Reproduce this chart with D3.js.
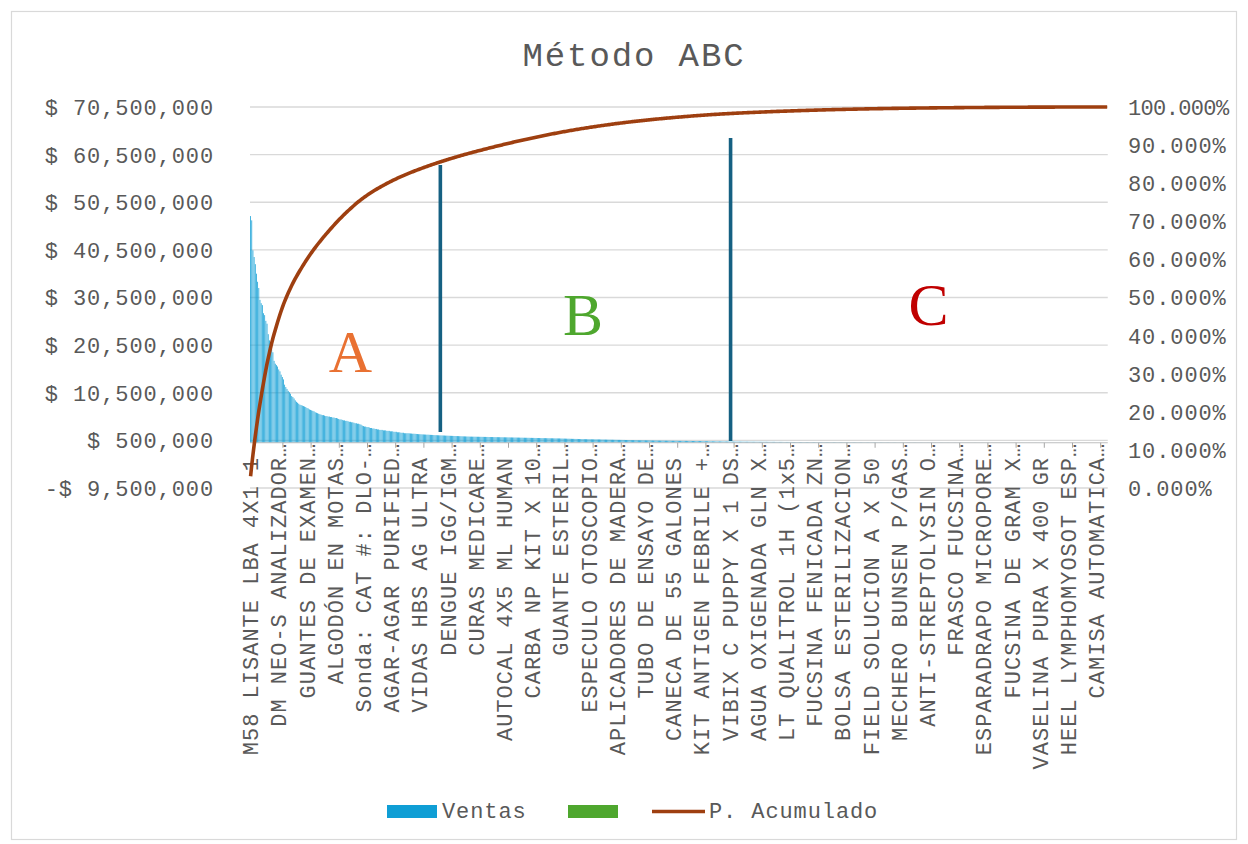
<!DOCTYPE html>
<html>
<head>
<meta charset="utf-8">
<script src="https://cdn.jsdelivr.net/npm/d3@7"></script>
<style>
  html, body { margin: 0; padding: 0; background: #ffffff; }
  svg { display: block; }
  .mono { font-family: "Liberation Mono", "DejaVu Sans Mono", monospace; fill: #595959; }
</style>
</head>
<body>
<svg id="chart" width="1248" height="844"></svg>
<script>
// Ventas por producto (millones de pesos), ordenadas de mayor a menor.
// Zona A: productos de mayor aporte
const ventasA = [
  47.6, 46.7, 40.4, 39.0, 37.5, 35.5, 33.8, 32.5, 30.0, 29.3,
  28.9, 27.2, 26.8, 25.6, 25.0, 22.8, 21.5, 20.5, 19.6, 19.0,
  17.2, 16.6, 16.3, 16.0, 15.4, 15.0, 14.3, 13.8, 13.3, 12.2,
  11.7, 11.3, 10.9, 10.6, 10.3, 9.8, 9.6, 9.3, 8.9, 8.6,
  8.4, 8.2, 8.0, 7.9, 7.8, 7.7,
  7.6, 7.5, 7.3, 7.2, 7.0, 6.9, 6.8, 6.7, 6.6, 6.4,
  6.3, 6.2, 6.1, 6.0, 5.9, 5.8, 5.8, 5.7, 5.6, 5.6,
  5.5, 5.5, 5.4, 5.4, 5.3, 5.3, 5.2, 5.2, 5.1, 5.0,
  4.9, 4.9, 4.8, 4.7, 4.7, 4.6, 4.6, 4.5, 4.4, 4.4,
  4.3, 4.3, 4.2, 4.1, 4.1, 4.0, 4.0,
  3.9, 3.8, 3.6, 3.5, 3.4, 3.4, 3.3, 3.3,
  3.2, 3.1, 3.1, 3.0, 3.0, 2.9, 2.9, 2.8,
  2.8, 2.7, 2.7, 2.7, 2.6, 2.6, 2.6, 2.5, 2.5, 2.5, 2.4, 2.4,
  2.4, 2.3, 2.3, 2.3, 2.2, 2.2, 2.2, 2.1, 2.1, 2.1, 2.0,
  2.0, 2.0, 2.0, 1.98, 1.95, 1.93, 1.9, 1.9, 1.88, 1.85, 1.83,
  1.8, 1.8, 1.78, 1.76, 1.75, 1.73, 1.72, 1.7, 1.7, 1.68, 1.66, 1.65,
  1.64, 1.62, 1.6, 1.6, 1.58, 1.57, 1.56
];
// Zona B
const ventasB = [
  1.55, 1.54, 1.53, 1.52, 1.50, 1.50, 1.48, 1.47, 1.46, 1.45,
  1.44, 1.43, 1.42, 1.41, 1.40, 1.39, 1.38, 1.37, 1.36, 1.35,
  1.34, 1.33, 1.32, 1.31, 1.30,
  1.29, 1.29, 1.28, 1.28, 1.27, 1.27, 1.26, 1.26, 1.25, 1.25,
  1.24, 1.24, 1.23, 1.23, 1.22, 1.22, 1.21, 1.21, 1.20, 1.20,
  1.19, 1.19, 1.18, 1.18, 1.17, 1.17, 1.16, 1.16, 1.15, 1.15,
  1.14, 1.14, 1.13, 1.13, 1.12, 1.12, 1.11, 1.11, 1.10, 1.10,
  1.09, 1.09, 1.08,
  1.07, 1.07, 1.06, 1.06, 1.05, 1.05, 1.04, 1.04, 1.03, 1.03,
  1.02, 1.02, 1.01, 1.01, 1.00, 1.00, 0.99, 0.99, 0.98, 0.98,
  0.97, 0.97, 0.96, 0.96, 0.95, 0.95, 0.94, 0.94, 0.93, 0.93,
  0.92, 0.92, 0.91, 0.91,
  0.90, 0.89, 0.88, 0.88, 0.87, 0.86, 0.85, 0.85, 0.84, 0.83,
  0.82, 0.82, 0.81, 0.80, 0.80, 0.79, 0.78, 0.78, 0.77, 0.76,
  0.76, 0.75, 0.75, 0.74, 0.74, 0.73, 0.73, 0.72, 0.72, 0.71,
  0.71, 0.71, 0.70, 0.70,
  0.69, 0.68, 0.68, 0.67, 0.67, 0.66, 0.66, 0.65, 0.65, 0.64,
  0.64, 0.63, 0.63, 0.62, 0.62, 0.61, 0.61, 0.60, 0.60, 0.59,
  0.59, 0.58, 0.58, 0.57, 0.57, 0.56, 0.56, 0.55, 0.55, 0.54,
  0.54, 0.53, 0.53, 0.52, 0.52, 0.52, 0.51, 0.51, 0.51, 0.50,
  0.50, 0.50, 0.49,
  0.48, 0.48, 0.47, 0.47, 0.47, 0.46, 0.46, 0.46, 0.45, 0.45,
  0.45, 0.44, 0.44, 0.44, 0.43, 0.43, 0.43, 0.42, 0.42, 0.42,
  0.41, 0.41, 0.41, 0.40, 0.40, 0.40, 0.40, 0.39, 0.39, 0.39,
  0.39, 0.38, 0.38, 0.38, 0.38, 0.37, 0.37, 0.37, 0.37, 0.36,
  0.36, 0.36, 0.36,
  0.35, 0.35, 0.34, 0.34, 0.33, 0.33, 0.32, 0.32, 0.31, 0.31,
  0.30, 0.30, 0.30, 0.29, 0.29, 0.29, 0.28, 0.28, 0.28, 0.27,
  0.27, 0.27, 0.26, 0.26, 0.25
];
// Zona C: cola de productos de bajo aporte
const ventasC = [
  0.25, 0.25, 0.25, 0.24, 0.24, 0.24, 0.24, 0.23, 0.23, 0.23,
  0.23, 0.23, 0.22, 0.22, 0.22, 0.22, 0.22, 0.22, 0.21, 0.21,
  0.21, 0.21, 0.21, 0.21, 0.20, 0.20, 0.20, 0.20, 0.20, 0.20,
  0.20, 0.19, 0.19, 0.19, 0.19, 0.19, 0.19, 0.19, 0.18, 0.18,
  0.18, 0.18, 0.18, 0.18, 0.18, 0.17, 0.17, 0.17, 0.17, 0.17,
  0.17, 0.17, 0.16, 0.16, 0.16, 0.16, 0.16, 0.16, 0.16, 0.16,
  0.155, 0.155, 0.15, 0.15, 0.15, 0.15, 0.148, 0.146, 0.145, 0.145,
  0.144, 0.142, 0.14, 0.14, 0.14, 0.138, 0.136, 0.135, 0.135, 0.134,
  0.132, 0.13, 0.13, 0.13, 0.128, 0.126, 0.125, 0.125, 0.124, 0.122,
  0.12, 0.12, 0.12, 0.118, 0.116, 0.115, 0.115, 0.114, 0.112, 0.11,
  0.11, 0.11, 0.108, 0.106, 0.105, 0.105, 0.104, 0.102, 0.10, 0.10,
  0.10, 0.099, 0.098, 0.097, 0.096, 0.095, 0.095, 0.094, 0.093, 0.092,
  0.091, 0.09, 0.09, 0.089, 0.088, 0.087, 0.086, 0.085, 0.085, 0.084,
  0.083, 0.082, 0.081, 0.08, 0.08, 0.079, 0.078, 0.077, 0.076, 0.075,
  0.075, 0.074, 0.073, 0.072, 0.071,
  0.07, 0.07, 0.069, 0.068, 0.068, 0.067, 0.066, 0.066, 0.065, 0.064,
  0.064, 0.063, 0.062, 0.062, 0.061, 0.06, 0.06, 0.059, 0.058, 0.058,
  0.057, 0.056, 0.056, 0.055, 0.055, 0.054, 0.053, 0.053, 0.052, 0.052,
  0.051, 0.05, 0.05, 0.05, 0.049, 0.048, 0.048, 0.047, 0.047, 0.046,
  0.046, 0.045, 0.045, 0.044, 0.044, 0.043, 0.043, 0.042, 0.042, 0.042,
  0.041, 0.041, 0.04, 0.04, 0.04, 0.039, 0.039, 0.038, 0.038, 0.038,
  0.037, 0.037, 0.036, 0.036, 0.036, 0.035, 0.035, 0.035, 0.034, 0.034,
  0.034, 0.033, 0.033, 0.033, 0.032, 0.032, 0.032, 0.031, 0.031, 0.031,
  0.03, 0.03, 0.03, 0.03, 0.029,
  0.029, 0.029, 0.028, 0.028, 0.028, 0.027, 0.027, 0.027, 0.026, 0.026,
  0.026, 0.025, 0.025, 0.025, 0.024, 0.024, 0.024, 0.023, 0.023, 0.023,
  0.022, 0.022, 0.022, 0.021, 0.021, 0.021, 0.02, 0.02, 0.02, 0.02,
  0.019, 0.019, 0.019, 0.018, 0.018, 0.018, 0.017, 0.017, 0.017, 0.016,
  0.016, 0.016, 0.015, 0.015, 0.015, 0.014, 0.014, 0.014, 0.013, 0.013,
  0.013, 0.012, 0.012, 0.012, 0.011, 0.011, 0.011, 0.01, 0.01, 0.01,
  0.009, 0.009, 0.009, 0.008, 0.008, 0.008, 0.007, 0.007, 0.007, 0.006,
  0.006, 0.006, 0.005, 0.005, 0.005, 0.005, 0.004, 0.004, 0.004, 0.004,
  0.003, 0.003, 0.003, 0.003, 0.003, 0.002, 0.002, 0.002, 0.002, 0.002,
  0.001
];

// Nombres de producto rotulados en el eje (uno cada 24 productos)
const etiquetas = [
  "M58 LISANTE LBA 4X1 1 ", "DM NEO-S ANALIZADOR…", "GUANTES DE EXAMEN…", "ALGODÓN EN MOTAS…",
  "Sonda: CAT #: DLO-…", "AGAR-AGAR PURIFIED…", "VIDAS HBS AG ULTRA ", "DENGUE IGG/IGM…",
  "CURAS MEDICARE…", "AUTOCAL 4X5 ML HUMAN ", "CARBA NP KIT X 10…", "GUANTE ESTERIL…",
  "ESPECULO OTOSCOPIO…", "APLICADORES DE MADERA…", "TUBO DE ENSAYO DE…", "CANECA DE 55 GALONES ",
  "KIT ANTIGEN FEBRILE +…", "VIBIX C PUPPY X 1 DS…", "AGUA OXIGENADA GLN X…", "LT QUALITROL 1H (1x5…",
  "FUCSINA FENICADA ZN…", "BOLSA ESTERILIZACION…", "FIELD SOLUCION A X 50 ", "MECHERO BUNSEN P/GAS…",
  "ANTI-STREPTOLYSIN O…", "FRASCO FUCSINA…", "ESPARADRAPO MICROPORE…", "FUCSINA DE GRAM X…",
  "VASELINA PURA X 400 GR ", "HEEL LYMPHOMYOSOT ESP…", "CAMISA AUTOMATICA…"
];

// Marcas de los ejes
const ticksVentas = [-9.5, 0.5, 10.5, 20.5, 30.5, 40.5, 50.5, 60.5, 70.5]; // millones
const ticksPorcentaje = [0, 0.1, 0.2, 0.3, 0.4, 0.5, 0.6, 0.7, 0.8, 0.9, 1.0];

// Divisiones entre zonas (índice de producto, inicio y fin en millones)
const divisiones = [
  { indice: 162, desde: 2.26, hasta: 58.3 },
  { indice: 409, desde: 0.37, hasta: 64.0 }
];
// Rótulos de zona (índice de producto y valor en millones para la línea base)
const zonas = [
  { letra: "A", indice: 85, valor: 14.9, color: "#E97132" },
  { letra: "B", indice: 283, valor: 22.6, color: "#4EA72E" },
  { letra: "C", indice: 577, valor: 24.7, color: "#C00000" }
];

const ventas = ventasA.concat(ventasB, ventasC);
const total = d3.sum(ventas);
const acumulado = Array.from(d3.cumsum(ventas), v => v / total);

const svg = d3.select("#chart");
const mono = '"Liberation Mono", "DejaVu Sans Mono", monospace';
const gris = "#595959";

// Borde del área del gráfico
svg.append("rect")
  .attr("x", 11.5).attr("y", 11.5).attr("width", 1225).attr("height", 828)
  .attr("fill", "#fff").attr("stroke", "#D9D9D9").attr("stroke-width", 1.2);

const plotLeft = 250, plotRight = 1107.75, plotTop = 107, plotBottom = 488;

const x = d3.scaleBand()
  .domain(d3.range(ventas.length))
  .range([plotLeft, plotRight])
  .paddingInner(0.35).paddingOuter(0.175);
const step = x.step();
const xc = i => x(i) + x.bandwidth() / 2;
const xEdge = i => plotLeft + i * step;

const y = d3.scaleLinear().domain([-9.5, 70.5]).range([plotBottom, plotTop]);
const yP = d3.scaleLinear().domain([0, 1]).range([plotBottom, plotTop]);

// Líneas de cuadrícula
svg.append("g").selectAll("line").data(ticksVentas).join("line")
  .attr("x1", plotLeft).attr("x2", plotRight)
  .attr("y1", d => y(d)).attr("y2", d => y(d))
  .attr("stroke", "#D9D9D9").attr("stroke-width", 1.4);

// Título
svg.append("text")
  .attr("x", 634).attr("y", 66)
  .attr("text-anchor", "middle")
  .style("font-family", mono).style("font-size", "34px").style("letter-spacing", "1.9px")
  .attr("fill", gris)
  .text("Método ABC");

// Eje izquierdo (ventas)
const fmtMiles = d3.format(",");
svg.append("g").selectAll("text").data(ticksVentas).join("text")
  .attr("x", 214).attr("y", d => y(d)).attr("dy", "0.36em")
  .attr("text-anchor", "end")
  .style("font-family", mono).style("font-size", "22px").style("letter-spacing", "0.9px")
  .attr("fill", gris)
  .text(d => (d < 0 ? "-$ " : "$ ") + fmtMiles(Math.round(Math.abs(d) * 1e6)));

// Eje derecho (porcentaje acumulado)
const fmtPct = d3.format(".3%");
svg.append("g").selectAll("text").data(ticksPorcentaje).join("text")
  .attr("x", 1128).attr("y", d => yP(d)).attr("dy", "0.36em")
  .attr("text-anchor", "start")
  .style("font-family", mono).style("font-size", "22px").style("letter-spacing", "0.9px")
  .attr("fill", gris)
  .text(d => fmtPct(d))
  .each(function () {
    // se comprime el rótulo si no cabe antes del borde
    if (this.getComputedTextLength() > 102) {
      d3.select(this).attr("textLength", 102).attr("lengthAdjust", "spacing");
    }
  });

// Barras de ventas
svg.append("g").selectAll("rect").data(ventas).join("rect")
  .attr("x", (d, i) => x(i))
  .attr("width", x.bandwidth())
  .attr("y", d => y(d))
  .attr("height", d => y(0) - y(d))
  .attr("fill", "#0F9ED5");

// Línea del eje de categorías y marcas
svg.append("line")
  .attr("x1", plotLeft).attr("x2", plotRight)
  .attr("y1", y(0)).attr("y2", y(0))
  .attr("stroke", "#BFBFBF").attr("stroke-width", 1);
svg.append("g").selectAll("line").data(d3.range(28, ventas.length, 24)).join("line")
  .attr("x1", d => xEdge(d)).attr("x2", d => xEdge(d))
  .attr("y1", y(0)).attr("y2", y(0) + 5)
  .attr("stroke", "#A6A6A6").attr("stroke-width", 1);

// Rótulos de productos
svg.append("g").selectAll("text").data(etiquetas).join("text")
  .attr("transform", (d, i) => `translate(${xc(i * 24)},${y(0)}) rotate(-90)`)
  .attr("dy", "0.35em")
  .attr("text-anchor", "end")
  .style("white-space", "pre")
  .style("font-family", mono).style("font-size", "22px").style("letter-spacing", "1px")
  .attr("fill", gris)
  .text(d => d);

// Divisiones entre zonas
svg.append("g").selectAll("line").data(divisiones).join("line")
  .attr("x1", d => xEdge(d.indice)).attr("x2", d => xEdge(d.indice))
  .attr("y1", d => y(d.desde)).attr("y2", d => y(d.hasta))
  .attr("stroke", "#156082").attr("stroke-width", 3.6);

// Rótulos de zona
svg.append("g").selectAll("text").data(zonas).join("text")
  .attr("x", d => xc(d.indice)).attr("y", d => y(d.valor))
  .attr("text-anchor", "middle")
  .style("font-family", '"Liberation Serif", "DejaVu Serif", serif')
  .style("font-size", "60px")
  .attr("fill", d => d.color)
  .text(d => d.letra);

// Curva de porcentaje acumulado
const linea = d3.line().x((d, i) => xc(i)).y(d => yP(d));
svg.append("path")
  .datum(acumulado)
  .attr("d", linea)
  .attr("fill", "none")
  .attr("stroke", "#9E3F10")
  .attr("stroke-width", 3.6)
  .attr("stroke-linejoin", "round");

// Leyenda
const ley = svg.append("g");
ley.append("rect").attr("x", 387).attr("y", 805).attr("width", 50).attr("height", 13).attr("fill", "#0F9ED5");
ley.append("text").attr("x", 442).attr("y", 818)
  .style("font-family", mono).style("font-size", "22px").style("letter-spacing", "0.9px")
  .attr("fill", gris).text("Ventas");
ley.append("rect").attr("x", 568).attr("y", 805).attr("width", 50).attr("height", 13).attr("fill", "#4EA72E");
ley.append("line").attr("x1", 652).attr("x2", 705).attr("y1", 811.5).attr("y2", 811.5)
  .attr("stroke", "#9E3F10").attr("stroke-width", 3.6);
ley.append("text").attr("x", 709).attr("y", 818)
  .style("font-family", mono).style("font-size", "22px").style("letter-spacing", "0.9px")
  .attr("fill", gris).text("P. Acumulado");
</script>
</body>
</html>
